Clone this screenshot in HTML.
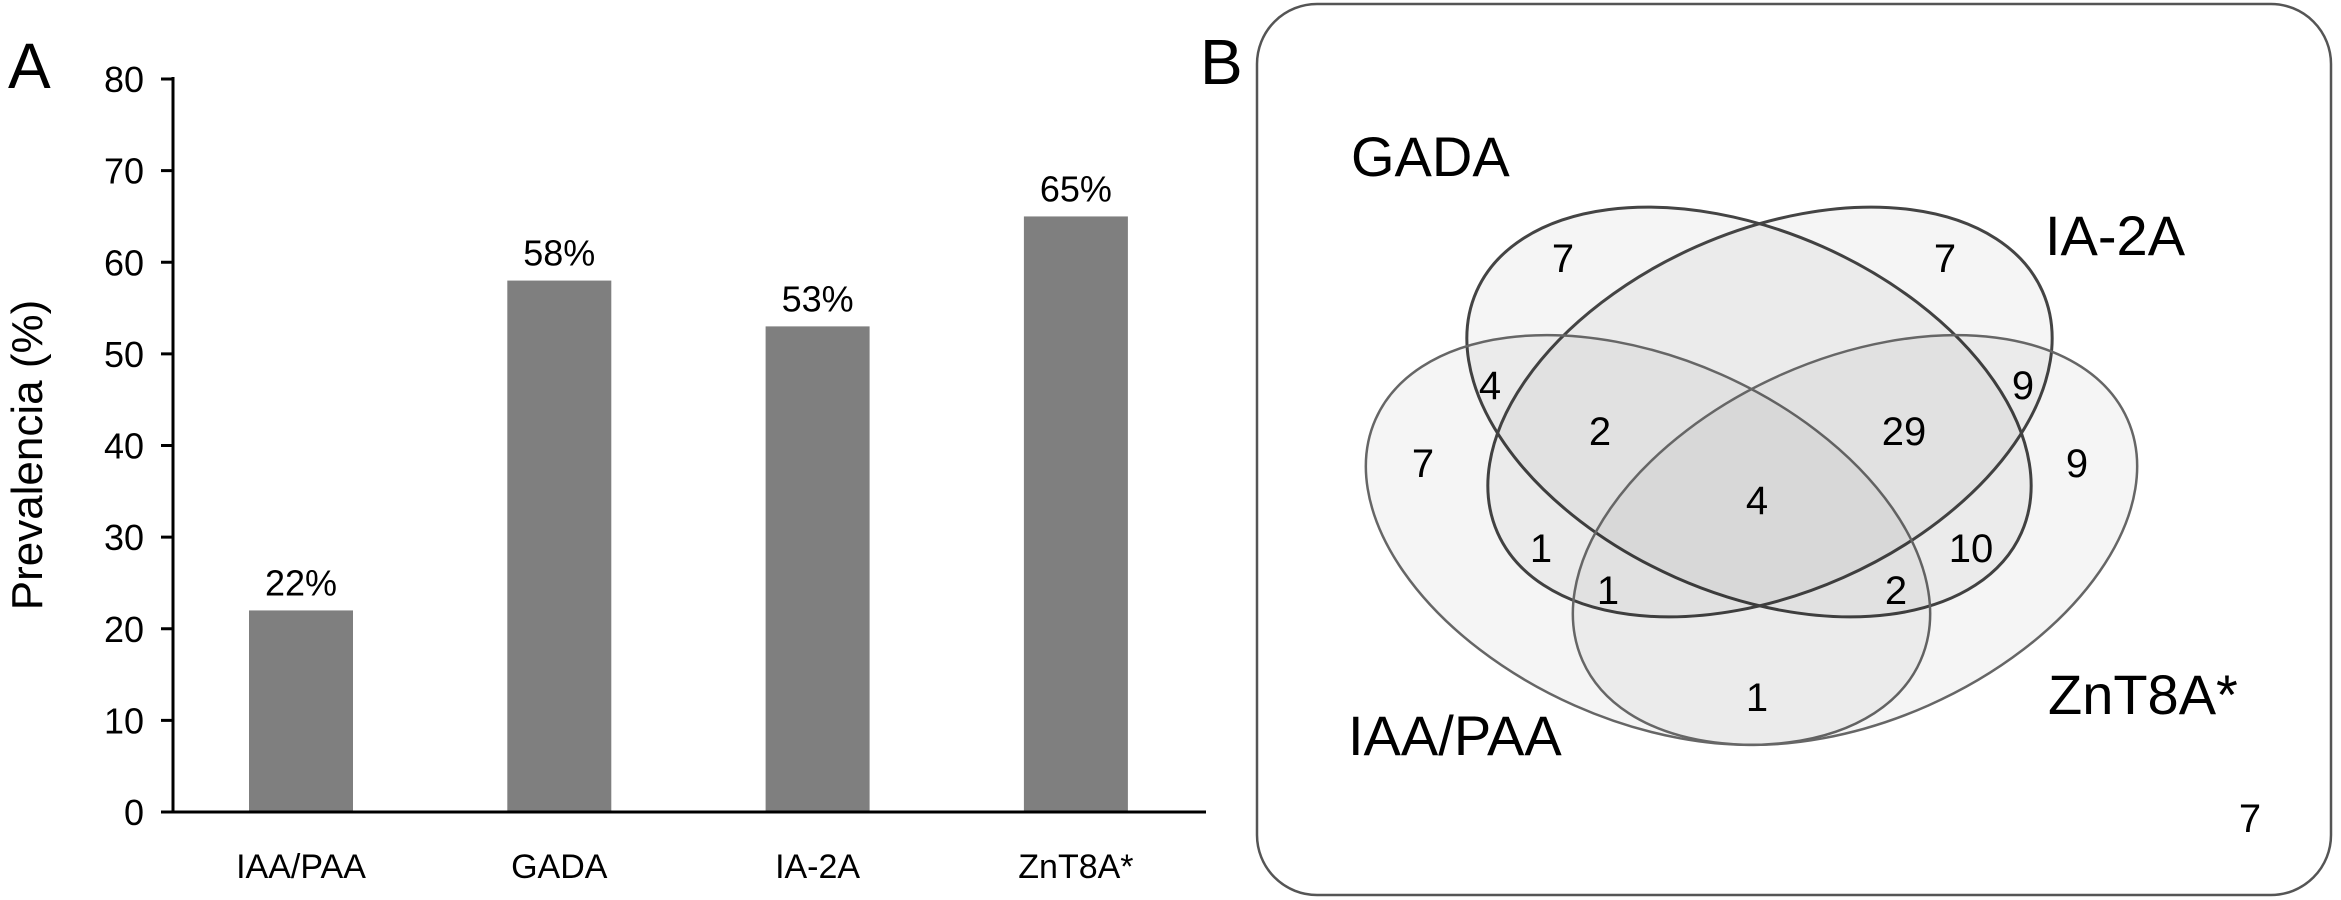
<!DOCTYPE html>
<html><head><meta charset="utf-8"><style>
html,body{margin:0;padding:0;background:#fff;}
svg{display:block;font-family:"Liberation Sans",Arial,sans-serif;}
</style></head><body>
<svg id="fig" width="2341" height="900" viewBox="0 0 2341 900" xmlns="http://www.w3.org/2000/svg">
<text x="8" y="88" font-size="64">A</text>
<text x="1200" y="84" font-size="64">B</text>
<g id="chart"></g>
<g id="venn">
<rect x="1257" y="4" width="1074" height="891" rx="60" ry="60" fill="#fff" stroke="#555" stroke-width="2.5"/>
</g>
</svg>
<script>
const categories = ["IAA/PAA","GADA","IA-2A","ZnT8A*"];
const values = [22,58,53,65];
const valueLabels = ["22%","58%","53%","65%"];
const yTicks = [0,10,20,30,40,50,60,70,80];

const NS="http://www.w3.org/2000/svg";
function mk(tag,attrs,parent){const e=document.createElementNS(NS,tag);for(const k in attrs)e.setAttribute(k,attrs[k]);parent.appendChild(e);return e;}
const chart=document.getElementById('chart');
const x0=173,y0=812,y80=79,xEnd=1206;
function yS(v){return y0-(v/80)*(y0-y80);}
function xS(i){return 301+i*258.3;}
const bw=104;
categories.forEach((c,i)=>{
  const r=mk('rect',{x:xS(i)-bw/2,y:yS(values[i]),width:bw,height:y0-yS(values[i]),fill:'#7f7f7f'},chart);
  
  
  const t=mk('text',{x:xS(i),y:yS(values[i])-15,'font-size':36,'text-anchor':'middle'},chart);
  t.textContent=valueLabels[i];
  
  
  const xl=mk('text',{x:xS(i),y:878,'font-size':34,'text-anchor':'middle'},chart);
  xl.textContent=c;
  
  
});
yTicks.forEach(v=>{
  const l=mk('line',{x1:161,x2:x0,y1:yS(v),y2:yS(v),stroke:'#000','stroke-width':3},chart);
  
  
  const t=mk('text',{x:144,y:yS(v)+13,'font-size':36,'text-anchor':'end'},chart);
  t.textContent=v;
  
  
});
const ya=mk('line',{x1:x0,x2:x0,y1:y80-2,y2:y0+1.5,stroke:'#000','stroke-width':3},chart);


const xa=mk('line',{x1:x0-1.5,x2:xEnd,y1:y0,y2:y0,stroke:'#000','stroke-width':3},chart);


const yt=mk('text',{x:0,y:0,'font-size':44,'text-anchor':'middle',transform:'translate(42,455) rotate(-90)'},chart);
yt.textContent='Prevalencia (%)';



// Venn
const venn=document.getElementById('venn');
const ells=[
 {n:'ellipse-gada',cx:1749,cy:412,r:23.9,s:'#444',w:3},
 {n:'ellipse-ia2a',cx:1770,cy:412,r:-23.9,s:'#444',w:3},
 {n:'ellipse-iaa-paa',cx:1648,cy:540,r:23.9,s:'#666',w:2.5},
 {n:'ellipse-znt8a',cx:1855,cy:540,r:-23.9,s:'#666',w:2.5}
];
ells.forEach(e=>{
  const el=mk('ellipse',{cx:e.cx,cy:e.cy,rx:298,ry:181,transform:`rotate(${e.r} ${e.cx} ${e.cy})`,fill:'#000','fill-opacity':0.04,stroke:e.s,'stroke-width':e.w},venn);
  
  
});
const vennLabels=[["GADA",1351,176],["IA-2A",2045,255],["IAA/PAA",1348,755],["ZnT8A*",2048,714]];
vennLabels.forEach(v=>{
  const t=mk('text',{x:v[1],y:v[2],'font-size':56},venn);
  t.textContent=v[0];
  
  
});
const counts=[["7",1563,258],["7",1945,258],["4",1490,385],["2",1600,431],["29",1904,431],["9",2023,385],["7",1423,463],["4",1757,500],["9",2077,463],["1",1541,548],["10",1971,548],["1",1608,590],["2",1896,590],["1",1757,697],["7",2250,818]];
counts.forEach(c=>{
  const t=mk('text',{x:c[1],y:c[2]+14,'font-size':40,'text-anchor':'middle'},venn);
  t.textContent=c[0];
  
  
});
</script>
</body></html>
